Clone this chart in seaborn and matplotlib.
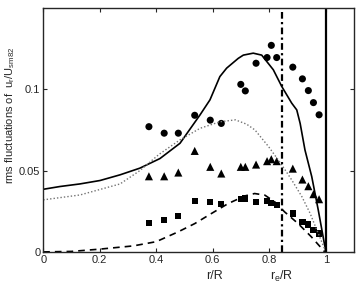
import matplotlib
matplotlib.use("Agg")
import matplotlib.pyplot as plt
import pandas as pd
import seaborn as sns

# measured points (shared r/R positions)
r_pts = [0.374, 0.428, 0.478, 0.536, 0.591, 0.630, 0.699, 0.715, 0.753,
         0.792, 0.807, 0.826, 0.883, 0.917, 0.938, 0.956, 0.976]
circles = [0.077, 0.073, 0.073, 0.084, 0.081, 0.079, 0.103, 0.099, 0.116,
           0.1195, 0.127, 0.1195, 0.1136, 0.1064, 0.0992, 0.0918, 0.0843]
triangles = [0.0465, 0.0465, 0.0488, 0.0621, 0.0523, 0.0482, 0.0523, 0.0523,
             0.0537, 0.0558, 0.057, 0.0558, 0.0512, 0.0445, 0.0404, 0.0355, 0.0324]
squares = [0.0178, 0.0195, 0.022, 0.0314, 0.0306, 0.0293, 0.0324, 0.0328,
           0.0308, 0.0312, 0.0301, 0.0287, 0.0236, 0.0185, 0.0168, 0.0137, 0.0113]

# computed profiles
r_solid = [0.0, 0.059, 0.13, 0.201, 0.272, 0.342, 0.413, 0.484, 0.555, 0.59,
           0.625, 0.649, 0.69, 0.708, 0.743, 0.773, 0.814, 0.844, 0.879, 0.897,
           0.909, 0.926, 0.95, 0.973, 1.0]
solid = [0.0385, 0.0402, 0.0418, 0.0439, 0.0474, 0.0515, 0.0574, 0.0668, 0.0843,
         0.0935, 0.1078, 0.113, 0.119, 0.121, 0.1222, 0.121, 0.112, 0.1017,
         0.0915, 0.0873, 0.079, 0.0627, 0.0463, 0.0258, 0.0]

r_dotted = [0.0, 0.13, 0.272, 0.342, 0.41, 0.484, 0.555, 0.625, 0.68, 0.72,
            0.749, 0.797, 0.844, 0.879, 0.915, 0.944, 0.968, 1.0]
dotted = [0.032, 0.035, 0.0418, 0.05, 0.06, 0.0689, 0.076, 0.080, 0.0812, 0.0785,
          0.075, 0.0648, 0.0535, 0.0443, 0.034, 0.0238, 0.0135, 0.0]

r_dashed = [0.0, 0.1, 0.2, 0.319, 0.4, 0.477, 0.536, 0.595, 0.654, 0.713, 0.748,
            0.784, 0.819, 0.854, 0.902, 0.949, 0.996]
dashed = [0.0, 0.0003, 0.0017, 0.0037, 0.0063, 0.0123, 0.0174, 0.0236, 0.0297,
          0.0344, 0.0359, 0.0349, 0.0308, 0.0246, 0.0174, 0.0092, 0.0]

r_e = 0.845

sns.set_style("ticks")
plt.rcParams["font.family"] = ["Liberation Sans", "DejaVu Sans"]
plt.rcParams["mathtext.fontset"] = "custom"
plt.rcParams["mathtext.rm"] = "Liberation Sans"
plt.rcParams["mathtext.it"] = "Liberation Sans"

fig = plt.figure(figsize=(3.57, 2.84), dpi=100)
ax = fig.add_axes([0.121, 0.113, 0.871, 0.859])

pts = pd.DataFrame({"r": r_pts, "c": circles, "t": triangles, "s": squares})
sns.scatterplot(data=pts, x="r", y="c", marker="o", s=26, color="black",
                edgecolor="none", ax=ax)
sns.scatterplot(data=pts, x="r", y="t", marker="^", s=34, color="black",
                edgecolor="none", ax=ax)
sns.scatterplot(data=pts, x="r", y="s", marker="s", s=20, color="black",
                edgecolor="none", ax=ax)

sns.lineplot(x=r_solid, y=solid, color="black", lw=1.2, ax=ax, sort=False)
sns.lineplot(x=r_dotted, y=dotted, color="0.45", lw=1.0, ls=(0, (1, 1.5)),
             ax=ax, sort=False)
sns.lineplot(x=r_dashed, y=dashed, color="black", lw=1.2, ls=(0, (4, 3)),
             ax=ax, sort=False)

ax.axvline(r_e, color="black", lw=1.6, ls=(0, (3, 1.5, 1, 1.5)))
ax.axvline(1.0, color="black", lw=1.6)

ax.set_xlim(0, 1.1)
ax.set_ylim(0, 0.15)
ax.set_xticks([0, 0.2, 0.4, 0.6, 0.8, 1])
ax.set_xticklabels(["0", "0.2", "0.4", "0.6", "0.8", "1"])
ax.set_yticks([0, 0.05, 0.1])
ax.set_yticklabels(["0", "0.05", "0.1"])
ax.tick_params(direction="in", length=3, width=0.8, labelsize=8,
               top=True, right=True, pad=2)
for sp in ax.spines.values():
    sp.set_linewidth(1.0)

ax.set_xlabel("")
ax.set_ylabel(r"rms fluctuations of  u$_r$/U$_{sm82}$", fontsize=8)
ax.yaxis.set_label_coords(-0.085, 0.56)
ax.text(0.55, -0.1, "r/R", transform=ax.transAxes, ha="center", va="center",
        fontsize=9)
ax.text(r_e, -0.1, r"r$_e$/R", transform=ax.get_xaxis_transform(),
        ha="center", va="center", fontsize=9)

fig.savefig("out.png", dpi=100)
